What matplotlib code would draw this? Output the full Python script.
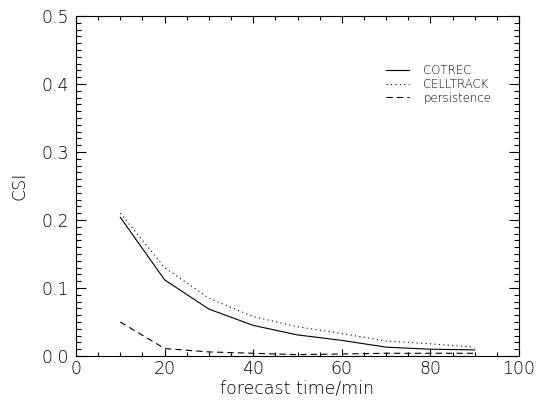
# CSI vs forecast time, IDL-style line plot

import matplotlib
matplotlib.use("Agg")
import matplotlib.pyplot as plt
from matplotlib.ticker import MultipleLocator, FormatStrFormatter

t = [10, 20, 30, 40, 50, 60, 70, 80, 90]
cotrec = [0.204, 0.112, 0.069, 0.045, 0.031, 0.023, 0.013, 0.010, 0.009]
celltrack = [0.210, 0.130, 0.085, 0.058, 0.043, 0.033, 0.022, 0.018, 0.013]
persistence = [0.050, 0.011, 0.006, 0.004, 0.002, 0.003, 0.004, 0.004, 0.004]

plt.rcParams['font.family'] = ['DejaVu Sans']
plt.rcParams['font.weight'] = 200
plt.rcParams['axes.labelweight'] = 200
plt.rcParams['lines.scale_dashes'] = False

fig = plt.figure(figsize=(5.37, 4.05), dpi=100)
ax = fig.add_axes([76/537, 1-356/405, (519-76)/537, (356-16)/405])

ax.plot(t, cotrec, color='black', lw=0.8, label='COTREC')
ax.plot(t, celltrack, color='black', lw=0.8, linestyle=(0, (0.8, 2.4)), label='CELLTRACK')
ax.plot(t, persistence, color='black', lw=0.8, linestyle=(0, (4.5, 3)), label='persistence')

ax.set_xlim(0, 100)
ax.set_ylim(0, 0.5)
ax.xaxis.set_major_locator(MultipleLocator(20))
ax.xaxis.set_minor_locator(MultipleLocator(5))
ax.yaxis.set_major_locator(MultipleLocator(0.1))
ax.yaxis.set_minor_locator(MultipleLocator(0.01))
ax.yaxis.set_major_formatter(FormatStrFormatter('%.1f'))

ax.tick_params(which='both', direction='in', top=True, right=True, width=0.8,
               labelsize=12.5, colors='black')
ax.tick_params(axis='x', which='major', length=5, pad=3)
ax.tick_params(axis='x', which='minor', length=2.8)
ax.tick_params(axis='y', which='major', length=7.2, pad=5)
ax.tick_params(axis='y', which='minor', length=3.6)
for s in ax.spines.values():
    s.set_linewidth(0.8)

# IDL nudges the bottom label up off the corner
ax.get_yticklabels()[0].set_va('bottom')

ax.set_xlabel('forecast time/min', fontsize=12.5, labelpad=1)
ax.set_ylabel('CSI', fontsize=12.5, labelpad=9)

ax.legend(loc='upper left', bbox_to_anchor=(0.675, 0.89), frameon=False, fontsize=8.5,
          handlelength=2.0, handletextpad=1.2, labelspacing=0.15)

fig.savefig('out.png', dpi=100)
